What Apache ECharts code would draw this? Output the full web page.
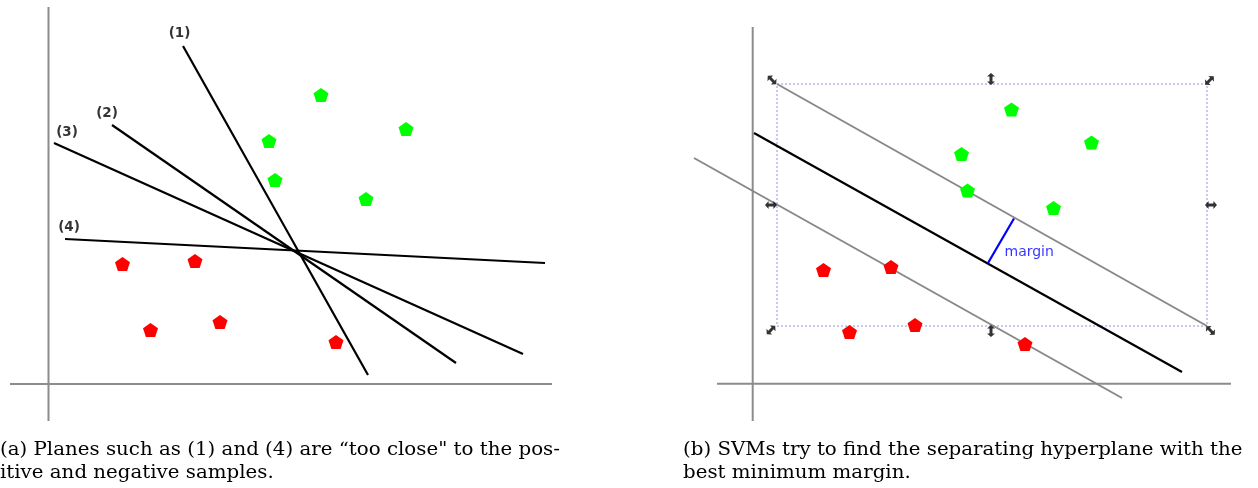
<!DOCTYPE html>
<html>
<head>
<meta charset="utf-8">
<script src="https://cdn.jsdelivr.net/npm/echarts@6/dist/echarts.min.js"></script>
<style>
html,body{margin:0;padding:0;background:#fff;}
#chart{width:1258px;height:488px;}
</style>
</head>
<body>
<div id="chart"></div>
<script>
// ---------- Panel (a): candidate separating planes ----------
const axisXA = [[-3.85, 0], [50.35, 0]];
const axisYA = [[0, -3.7], [0, 37.7]];
const planeA1 = [[13.45, 33.8], [31.95, 0.9]];
const planeA2 = [[6.35, 25.9], [40.75, 2.1]];
const planeA3 = [[0.55, 24.1], [47.45, 3.0]];
const planeA4 = [[1.65, 14.5], [49.65, 12.1]];
const planeLabelsA = ['(1)', '(2)', '(3)', '(4)'];
const planeLabelPosA = [[13.1, 35.1], [5.85, 27.1], [1.85, 25.2], [2.05, 15.7]];
const positiveA = [[27.25, 28.9], [35.75, 25.5], [22.05, 24.3], [22.65, 20.4], [31.75, 18.5]];
const negativeA = [[7.4, 12.0], [14.65, 12.3], [10.2, 5.4], [17.15, 6.2], [28.75, 4.2]];

// ---------- Panel (b): maximum margin hyperplane ----------
const axisXB = [[-3.57, 0], [47.83, 0]];
const axisYB = [[0, -3.73], [0, 35.67]];
const upperMarginB = [[2.43, 29.97], [45.43, 5.77]];
const hyperplaneB = [[0.13, 25.07], [42.93, 1.17]];
const lowerMarginB = [[-5.87, 22.57], [36.93, -1.43]];
const marginSegB = [[26.13, 16.52], [23.53, 12.07]];
const marginLabelPosB = [25.13, 13.17];
const selBoxB = [[2.43, 29.97], [45.43, 29.97], [45.43, 5.77], [2.43, 5.77], [2.43, 29.97]];
const handlesB = [
  [1.93, 30.37, -45], [23.83, 30.47, 90], [45.68, 30.32, 45],
  [1.83, 17.87, 0], [45.83, 17.87, 0],
  [1.83, 5.37, 45], [23.83, 5.27, 90], [45.78, 5.32, -45]
];
const positiveB = [[25.88, 27.42], [33.88, 24.12], [20.88, 22.97], [21.48, 19.32], [30.08, 17.57]];
const negativeB = [[7.08, 11.37], [13.83, 11.67], [9.68, 5.17], [16.23, 5.87], [27.23, 3.97]];

const captionA = ['(a) Planes such as (1) and (4) are \u201ctoo close" to the pos-', 'itive and negative samples.'];
const captionB = ['(b) SVMs try to find the separating hyperplane with the', 'best minimum margin.'];

const pentagon = 'path://M0,-10 L9.511,-3.09 L5.878,8.09 L-5.878,8.09 L-9.511,-3.09 Z';
const dblArrow = 'path://M0,5 L3.6,1 L3.6,3.5 L8.4,3.5 L8.4,1 L12,5 L8.4,9 L8.4,6.5 L3.6,6.5 L3.6,9 Z';

const axisGray = '#8c8c8c';
function mkAxis(idx, min, max) {
  return {
    type: 'value', gridIndex: idx, min: min, max: max,
    axisLine: { show: false }, axisTick: { show: false },
    axisLabel: { show: false }, splitLine: { show: false }
  };
}
function seg(data, xi, color, width, extra) {
  return Object.assign({
    type: 'line', xAxisIndex: xi, yAxisIndex: xi, data: data, symbol: 'none',
    clip: false, silent: true, z: 3,
    lineStyle: { color: color, width: width }
  }, extra || {});
}
function pts(data, xi, color) {
  return {
    type: 'scatter', xAxisIndex: xi, yAxisIndex: xi, data: data,
    symbol: pentagon, symbolSize: [15, 14], z: 4,
    itemStyle: { color: color, opacity: 1 }
  };
}

const chart = echarts.init(document.getElementById('chart'), null, { renderer: 'canvas' });
const option = {
  animation: false,
  backgroundColor: '#ffffff',
  grid: [
    { left: 10, top: 7, width: 542, height: 414 },
    { left: 690, top: 27, width: 541, height: 394 }
  ],
  xAxis: [mkAxis(0, -3.85, 50.35), mkAxis(1, -6.27, 47.83)],
  yAxis: [mkAxis(0, -3.7, 37.7), mkAxis(1, -3.73, 35.67)],
  series: [
    seg(axisXA, 0, axisGray, 2, { z: 1 }),
    seg(axisYA, 0, axisGray, 2, { z: 1 }),
    seg(planeA1, 0, '#000000', 2.2),
    seg(planeA2, 0, '#000000', 2.2),
    seg(planeA3, 0, '#000000', 2.2),
    seg(planeA4, 0, '#000000', 2.2),
    {
      type: 'scatter', xAxisIndex: 0, yAxisIndex: 0, symbolSize: 1,
      itemStyle: { color: 'rgba(0,0,0,0)' },
      data: planeLabelsA.map((n, i) => ({ name: n, value: planeLabelPosA[i] })),
      label: { show: true, position: 'inside', formatter: '{b}', color: '#000000',
               fontFamily: 'DejaVu Sans', fontSize: 13.5, fontWeight: 'bold' }
    },
    pts(positiveA, 0, '#00ff00'),
    pts(negativeA, 0, '#ff0000'),

    seg(axisXB, 1, axisGray, 2, { z: 1 }),
    seg(axisYB, 1, axisGray, 2, { z: 1 }),
    seg(selBoxB, 1, '#9090f0', 1, { z: 2, lineStyle: { color: '#9090f0', width: 1, type: [2, 2] } }),
    seg(upperMarginB, 1, '#888888', 2),
    seg(lowerMarginB, 1, '#888888', 2),
    seg(hyperplaneB, 1, '#000000', 2.2),
    seg(marginSegB, 1, '#0000ff', 2.2),
    {
      type: 'scatter', xAxisIndex: 1, yAxisIndex: 1, symbol: dblArrow, symbolSize: [12, 8], z: 5,
      itemStyle: { color: '#000' },
      data: handlesB.map(h => ({ value: [h[0], h[1]], symbolRotate: h[2] }))
    },
    {
      type: 'scatter', xAxisIndex: 1, yAxisIndex: 1, symbolSize: 1,
      itemStyle: { color: 'rgba(0,0,0,0)' },
      data: [{ name: 'margin', value: marginLabelPosB }],
      label: { show: true, position: 'right', distance: 0, formatter: '{b}', color: '#0000ff',
               fontFamily: 'DejaVu Sans', fontSize: 14 }
    },
    pts(positiveB, 1, '#00ff00'),
    pts(negativeB, 1, '#ff0000')
  ],
  graphic: [
    { type: 'text', x: 0, y: 439, scaleX: 1.1, style: { text: captionA.join('\n'), font: '18px "DejaVu Serif"', fill: '#000', lineHeight: 23 } },
    { type: 'text', x: 683, y: 439, scaleX: 1.1, style: { text: captionB.join('\n'), font: '18px "DejaVu Serif"', fill: '#000', lineHeight: 23 } }
  ]
};
chart.setOption(option);
</script>
</body>
</html>
